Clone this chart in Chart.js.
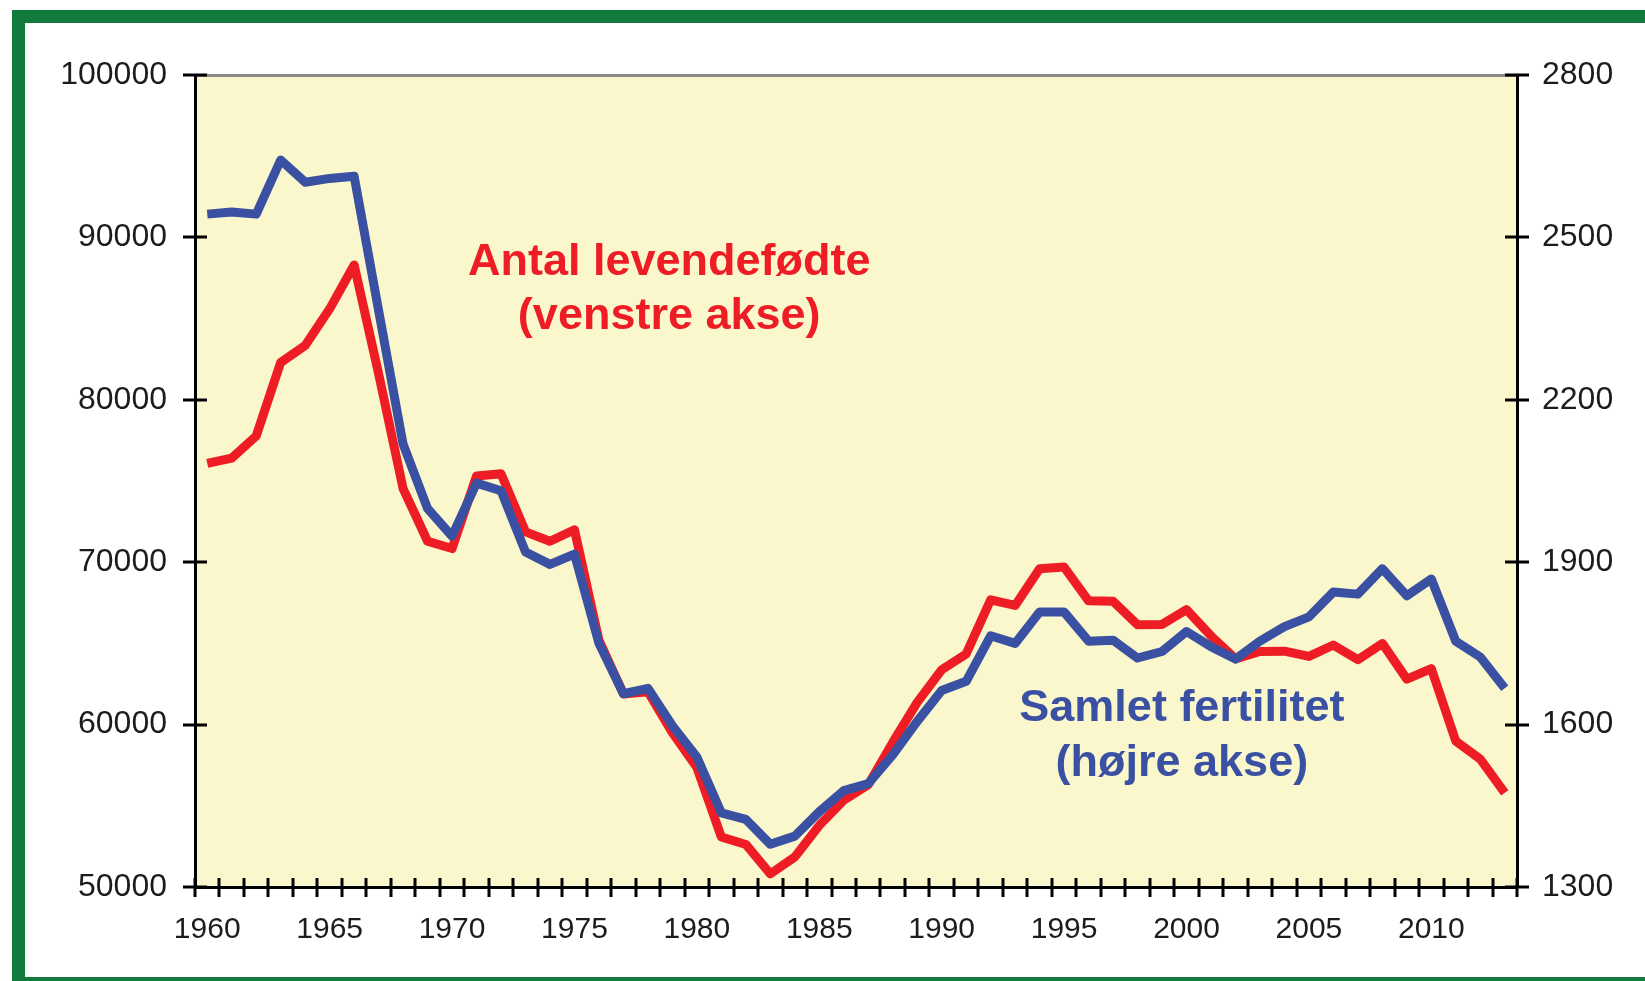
<!DOCTYPE html>
<html>
<head>
<meta charset="utf-8">
<script src="https://cdn.jsdelivr.net/npm/chart.js@4.4.1/dist/chart.umd.min.js"></script>
<style>
  html, body { margin: 0; padding: 0; background: #fff; overflow: hidden; }
  #ramme {
    position: absolute; left: 12px; top: 10px; width: 2000px; height: 980px;
    box-sizing: border-box; border: 13px solid #137a3e;
  }
  #graf { position: absolute; left: 0; top: 0; }
</style>
</head>
<body>
<div id="ramme"></div>
<canvas id="graf" width="1645" height="981"></canvas>
<script>
// data
const aar = [];
for (let a = 1960; a <= 2013; a++) aar.push(a);

const levendefodte = [
  76080, 76410, 77770, 82300, 83340, 85600, 88300, 81600, 74530, 71290,
  70840, 75310, 75440, 71870, 71290, 72000, 65200, 61890, 62020, 59500,
  57360, 53080, 52620, 50810, 51850, 53790, 55350, 56300, 58900, 61370,
  63380, 64350, 67680, 67340, 69600, 69700, 67620, 67600, 66150, 66170,
  67080, 65460, 64050, 64500, 64520, 64200, 64900, 64000, 65000, 62800,
  63450, 58980, 57870, 55800
];

const fertilitet = [
  2543, 2547, 2543, 2643, 2602, 2609, 2613, 2365, 2118, 1999,
  1948, 2046, 2032, 1919, 1896, 1915, 1750, 1657, 1667, 1598,
  1540, 1437, 1425, 1379, 1394, 1439, 1478, 1491, 1544, 1606,
  1663, 1680, 1764, 1750, 1808, 1808, 1754, 1756, 1723, 1735,
  1772, 1744, 1721, 1754, 1781, 1799, 1845, 1841, 1888, 1838,
  1869, 1754, 1725, 1667
];

const venstreTicks = [50000, 60000, 70000, 80000, 90000, 100000];
const hojreTicks = [1300, 1600, 1900, 2200, 2500, 2800];

const roed = "#ee1d25";
const blaa = "#3a50a2";
const tekstFarve = "#1c1c1c";
const skrift = "'Liberation Sans', Arial, sans-serif";

// baggrund i plotområdet
const baggrund = {
  id: "baggrund",
  beforeDraw(chart) {
    const { ctx, chartArea: c } = chart;
    ctx.save();
    ctx.fillStyle = "#faf7cc";
    ctx.fillRect(c.left, c.top, c.right - c.left, c.bottom - c.top);
    ctx.restore();
  }
};

// tick-mærker der krydser akserne
const krydsTicks = {
  id: "krydsTicks",
  afterDraw(chart) {
    const { ctx, chartArea: c, scales } = chart;
    ctx.save();
    ctx.strokeStyle = "#000";
    ctx.lineWidth = 3;
    ctx.beginPath();
    for (let i = 0; i <= aar.length; i++) {
      const px = Math.round(scales.x.getPixelForValue(i - 0.5));
      ctx.moveTo(px, c.bottom - 9);
      ctx.lineTo(px, c.bottom + 10);
    }
    scales.y.ticks.forEach(t => {
      const py = Math.round(scales.y.getPixelForValue(t.value));
      ctx.moveTo(c.left - 12, py);
      ctx.lineTo(c.left + 12, py);
    });
    scales.y1.ticks.forEach(t => {
      const py = Math.round(scales.y1.getPixelForValue(t.value));
      ctx.moveTo(c.right - 12, py);
      ctx.lineTo(c.right + 12, py);
    });
    ctx.stroke();
    ctx.restore();
  }
};

// serie-navne inde i figuren
const tekster = {
  id: "tekster",
  afterDatasetsDraw(chart) {
    const { ctx, scales } = chart;
    ctx.save();
    ctx.font = "bold 45px " + skrift;
    ctx.textAlign = "center";
    ctx.textBaseline = "middle";

    let x = scales.x.getPixelForValue(18.87);
    let y = scales.y.getPixelForValue(86815);
    ctx.fillStyle = roed;
    ctx.fillText("Antal levendefødte", x, y - 27);
    ctx.fillText("(venstre akse)", x, y + 27);

    x = scales.x.getPixelForValue(39.81);
    y = scales.y1.getPixelForValue(1579);
    ctx.fillStyle = blaa;
    ctx.fillText("Samlet fertilitet", x, y - 27);
    ctx.fillText("(højre akse)", x, y + 28);
    ctx.restore();
  }
};

new Chart(document.getElementById("graf"), {
  type: "line",
  data: {
    labels: aar,
    datasets: [
      {
        label: "Samlet fertilitet",
        data: fertilitet,
        yAxisID: "y1",
        borderColor: blaa,
        borderWidth: 9,
        pointRadius: 0,
        tension: 0,
        borderJoinStyle: "round",
        order: 0
      },
      {
        label: "Antal levendefødte",
        data: levendefodte,
        yAxisID: "y",
        borderColor: roed,
        borderWidth: 9,
        pointRadius: 0,
        tension: 0,
        borderJoinStyle: "round",
        order: 1
      }
    ]
  },
  options: {
    responsive: false,
    animation: false,
    layout: { padding: { top: 75, left: 0, right: 0, bottom: 0 } },
    plugins: {
      legend: { display: false },
      tooltip: { enabled: false }
    },
    scales: {
      x: {
        type: "category",
        offset: true,
        grid: { display: false, drawTicks: false },
        border: { display: true, color: "#000", width: 3 },
        ticks: {
          autoSkip: false,
          maxRotation: 0,
          padding: 25,
          color: tekstFarve,
          font: { family: skrift, size: 30 },
          callback: (v, i) => (aar[i] % 5 === 0 ? String(aar[i]) : "")
        },
        afterFit: s => { s.height = 94; }
      },
      y: {
        position: "left",
        min: venstreTicks[0],
        max: venstreTicks[venstreTicks.length - 1],
        ticks: {
          stepSize: 10000,
          padding: 28,
          color: tekstFarve,
          font: { family: skrift, size: 32 },
          callback: v => String(v)
        },
        grid: {
          drawTicks: false,
          lineWidth: 3,
          color: ctx => (ctx.tick && ctx.tick.value === 100000 ? "#8a8a8a" : "rgba(0,0,0,0)")
        },
        border: { display: true, color: "#000", width: 3 },
        afterFit: s => { s.width = 195; }
      },
      y1: {
        position: "right",
        min: hojreTicks[0],
        max: hojreTicks[hojreTicks.length - 1],
        ticks: {
          stepSize: 300,
          padding: 25,
          color: tekstFarve,
          font: { family: skrift, size: 32 },
          callback: v => String(v)
        },
        grid: { display: false, drawTicks: false },
        border: { display: true, color: "#000", width: 3 },
        afterFit: s => { s.width = 128; }
      }
    }
  },
  plugins: [baggrund, krydsTicks, tekster]
});
</script>
</body>
</html>
